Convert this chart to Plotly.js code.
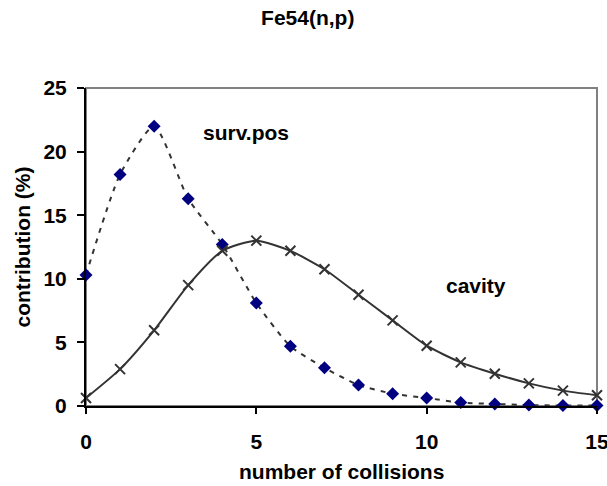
<!DOCTYPE html>
<html>
<head>
<meta charset="utf-8">
<script src="https://cdn.plot.ly/plotly-3.0.1.min.js"></script>
<style>
  html, body { margin: 0; padding: 0; background: #fff; }
  #chart { width: 607px; height: 486px; }
</style>
</head>
<body>
<div id="chart"></div>
<script>
// Number of collisions before reaction
const collisions = [0, 1, 2, 3, 4, 5, 6, 7, 8, 9, 10, 11, 12, 13, 14, 15];

// Contribution (%) for the surviving-position estimator
const survPos = [10.3, 18.2, 22.0, 16.3, 12.7, 8.1, 4.7, 3.0, 1.65, 0.97, 0.63, 0.27, 0.16, 0.07, 0.04, 0.03];

// Contribution (%) for the cavity estimator
const cavity = [0.63, 2.9, 5.95, 9.5, 12.2, 13.0, 12.2, 10.75, 8.75, 6.73, 4.74, 3.43, 2.54, 1.78, 1.21, 0.84];

const xTicks = [0, 5, 10, 15];
const yTicks = [0, 5, 10, 15, 20, 25];

const font = 'Liberation Sans, Arial, sans-serif';
const fs = 21;

const traces = [
  {
    x: collisions, y: survPos, name: 'surv.pos',
    type: 'scatter', mode: 'lines+markers', cliponaxis: false,
    line: { color: '#333333', width: 2, dash: '5px,6px', shape: 'spline', smoothing: 0.6 },
    marker: { symbol: 'diamond', size: 10, color: '#000080' }
  },
  {
    x: collisions, y: cavity, name: 'cavity',
    type: 'scatter', mode: 'lines+markers', cliponaxis: false,
    line: { color: '#333333', width: 2, shape: 'spline', smoothing: 0.6 },
    marker: { symbol: 'x-thin', size: 10, line: { color: '#333333', width: 2 } }
  }
];

const layout = {
  width: 607, height: 486,
  margin: { l: 86, r: 10, t: 88, b: 80 },
  paper_bgcolor: '#ffffff', plot_bgcolor: '#ffffff',
  showlegend: false,
  font: { family: font, size: fs, color: '#000000' },
  title: {
    text: '<b>Fe54(n,p)</b>',
    font: { family: font, size: fs, color: '#000000' },
    x: 0.507, xanchor: 'center', y: 0.964, yanchor: 'middle'
  },
  xaxis: {
    range: [0, 15], tickvals: xTicks, ticktext: xTicks.map(v => '<b>' + v + '</b>'),
    showgrid: false, zeroline: false,
    showline: true, linecolor: '#000000', linewidth: 2,
    ticks: 'outside', ticklen: 6, tickwidth: 2, tickcolor: '#000000',
    ticklabelstandoff: 10, ticklabeloverflow: 'allow',
    tickfont: { family: font, size: fs, color: '#000000' }
  },
  yaxis: {
    range: [0, 25], tickvals: yTicks, ticktext: yTicks.map(v => '<b>' + v + '</b>'),
    showgrid: false, zeroline: false,
    showline: true, linecolor: '#000000', linewidth: 2,
    ticks: 'outside', ticklen: 7, tickwidth: 2, tickcolor: '#000000',
    ticklabelstandoff: 6,
    tickfont: { family: font, size: fs, color: '#000000' },
    title: { text: '<b>contribution (%)</b>', font: { family: font, size: fs }, standoff: 7 }
  },
  shapes: [
    {
      type: 'rect', xref: 'paper', yref: 'paper', x0: 0, x1: 1, y0: 0, y1: 1,
      line: { color: '#808080', width: 2 }, layer: 'below'
    }
  ],
  annotations: [
    // x-axis title, placed a little lower than the default axis-title slot
    { text: '<b>number of collisions</b>', x: 0.5, y: -0.205, xref: 'paper', yref: 'paper',
      xanchor: 'center', yanchor: 'middle', showarrow: false,
      font: { family: font, size: fs, color: '#000000' } },
    { text: '<b>surv.pos</b>', x: 4.71, y: 21.5, xref: 'x', yref: 'y',
      showarrow: false, font: { family: font, size: fs, color: '#000000' } },
    { text: '<b>cavity</b>', x: 11.45, y: 9.5, xref: 'x', yref: 'y',
      showarrow: false, font: { family: font, size: fs, color: '#000000' } }
  ]
};

Plotly.newPlot('chart', traces, layout, { displayModeBar: false, staticPlot: true });
</script>
</body>
</html>
